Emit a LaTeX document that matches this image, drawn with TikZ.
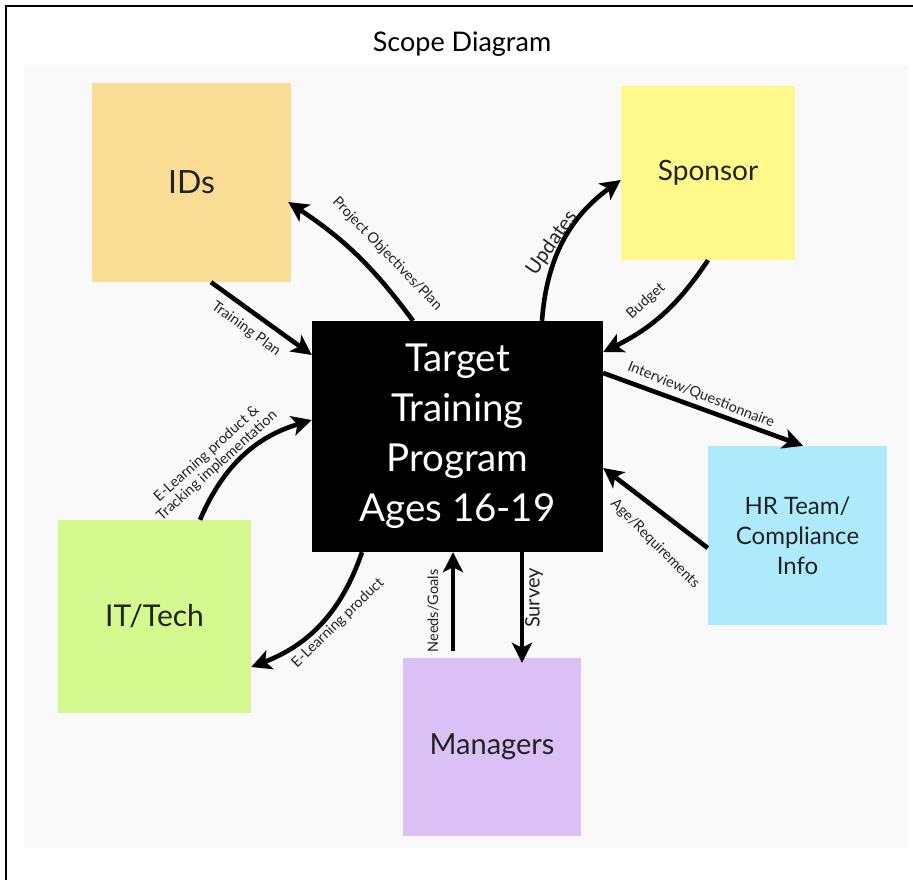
\documentclass[tikz,border=0pt]{standalone}
\usepackage{fontspec}
\setmainfont{Lato}
\usetikzlibrary{arrows.meta}
\definecolor{bgc}{HTML}{F9F9F9}
\definecolor{idsc}{HTML}{F9DD94}
\definecolor{sponc}{HTML}{FFF98C}
\definecolor{hrc}{HTML}{ADEAFC}
\definecolor{itc}{HTML}{D3F98F}
\definecolor{mgrc}{HTML}{DBC0F6}
\definecolor{txt}{HTML}{222222}
\tikzset{
  box/.style={rectangle, inner sep=0pt, text=txt, align=center},
  conn/.style={line width=4.6pt, -{Stealth[length=20pt,width=20pt,inset=5pt]}},
  lbl/.style={inner sep=0pt, text=txt, font=\fontsize{14.5}{15.5}\selectfont, align=center},
  biglbl/.style={inner sep=0pt, text=txt, font=\fontsize{20}{22}\selectfont},
}
\begin{document}
\begin{tikzpicture}[x=1pt,y=-1pt]
\useasboundingbox (0,0) rectangle (913,880);
\fill[white] (0,0) rectangle (913,880);
\fill[bgc] (24,65) rectangle (908,848);
\draw[line width=2.5pt] (6,880) -- (6,6) -- (913,6);
\node[inner sep=0pt, font=\fontsize{27}{29}\selectfont] (title) at (462,44) {Scope Diagram};

\node[box, fill=idsc, minimum width=199pt, minimum height=199pt, font=\fontsize{32}{36}\selectfont] (ids) at (191.5,182.5) {IDs};
\node[box, fill=sponc, minimum width=174pt, minimum height=174pt, font=\fontsize{28}{30}\selectfont] (spon) at (708,173) {Sponsor};
\node[box, fill=black, text=white, minimum width=291pt, minimum height=231pt, font=\fontsize{38.5}{50}\selectfont] (tgt) at (457.5,436.5) {Target\\Training\\Program\\Ages 16-19};
\node[box, fill=hrc, minimum width=179pt, minimum height=179pt, font=\fontsize{24}{30}\selectfont] (hr) at (797.5,535.5) {HR Team/\\Compliance\\Info};
\node[box, fill=itc, minimum width=193pt, minimum height=193pt, font=\fontsize{30}{32}\selectfont] (it) at (154.5,616.5) {IT/Tech};
\node[box, fill=mgrc, minimum width=178pt, minimum height=178pt, font=\fontsize{29}{31}\selectfont] (mgr) at (492,747) {Managers};

% connectors
\draw[conn] ([xshift=19.5pt]ids.south) -- ([yshift=81.5pt]tgt.west);
\draw[conn] ([xshift=-44.5pt]tgt.north) to[bend right=10] ([xshift=-3pt,yshift=-19.5pt]ids.east);
\draw[conn] ([xshift=84.5pt]tgt.north) to[bend left=25] ([yshift=-7pt]spon.west);
\draw[conn] (spon.south) to[bend left=15] ([yshift=84.5pt]tgt.east);
\draw[conn] ([yshift=63.5pt]tgt.east) -- ([xshift=5.5pt]hr.north);
\draw[conn] ([yshift=-12.5pt]hr.west) -- ([yshift=-31.5pt]tgt.east);
\draw[conn] ([xshift=45.5pt]it.north) to[bend left=25] ([yshift=16.5pt]tgt.west);
\draw[conn] ([xshift=-95.5pt]tgt.south) to[bend left=25] ([yshift=-50.5pt]it.east);
\draw[conn, shorten <=7pt] ([xshift=-39pt]mgr.north) -- ([xshift=-4.5pt]tgt.south);
\draw[conn, shorten >=-5pt] ([xshift=64.5pt]tgt.south) -- ([xshift=30pt]mgr.north);

% labels
\node[lbl, rotate=-36] (l1) at (246,329) {Training Plan};
\node[lbl, rotate=-46] (l2) at (387,254) {Project Objectives/Plan};
\node[biglbl, rotate=55] (l3) at (552,243) {Updates};
\node[lbl, rotate=42] (l4) at (646,301) {Budget};
\node[lbl, rotate=-21.5] (l5) at (701,395) {Interview/Questionnaire};
\node[lbl, rotate=-45] (l6) at (655,544) {Age/Requirements};
\node[lbl, rotate=42] (l7) at (212,460) {E-Learning product \&\\Tracking implementation};
\node[lbl, rotate=44] (l8) at (338,623) {E-Learning product};
\node[lbl, rotate=90] (l9) at (433,611) {Needs/Goals};
\node[biglbl, rotate=90] (l10) at (534,598) {Survey};
\end{tikzpicture}
\end{document}
